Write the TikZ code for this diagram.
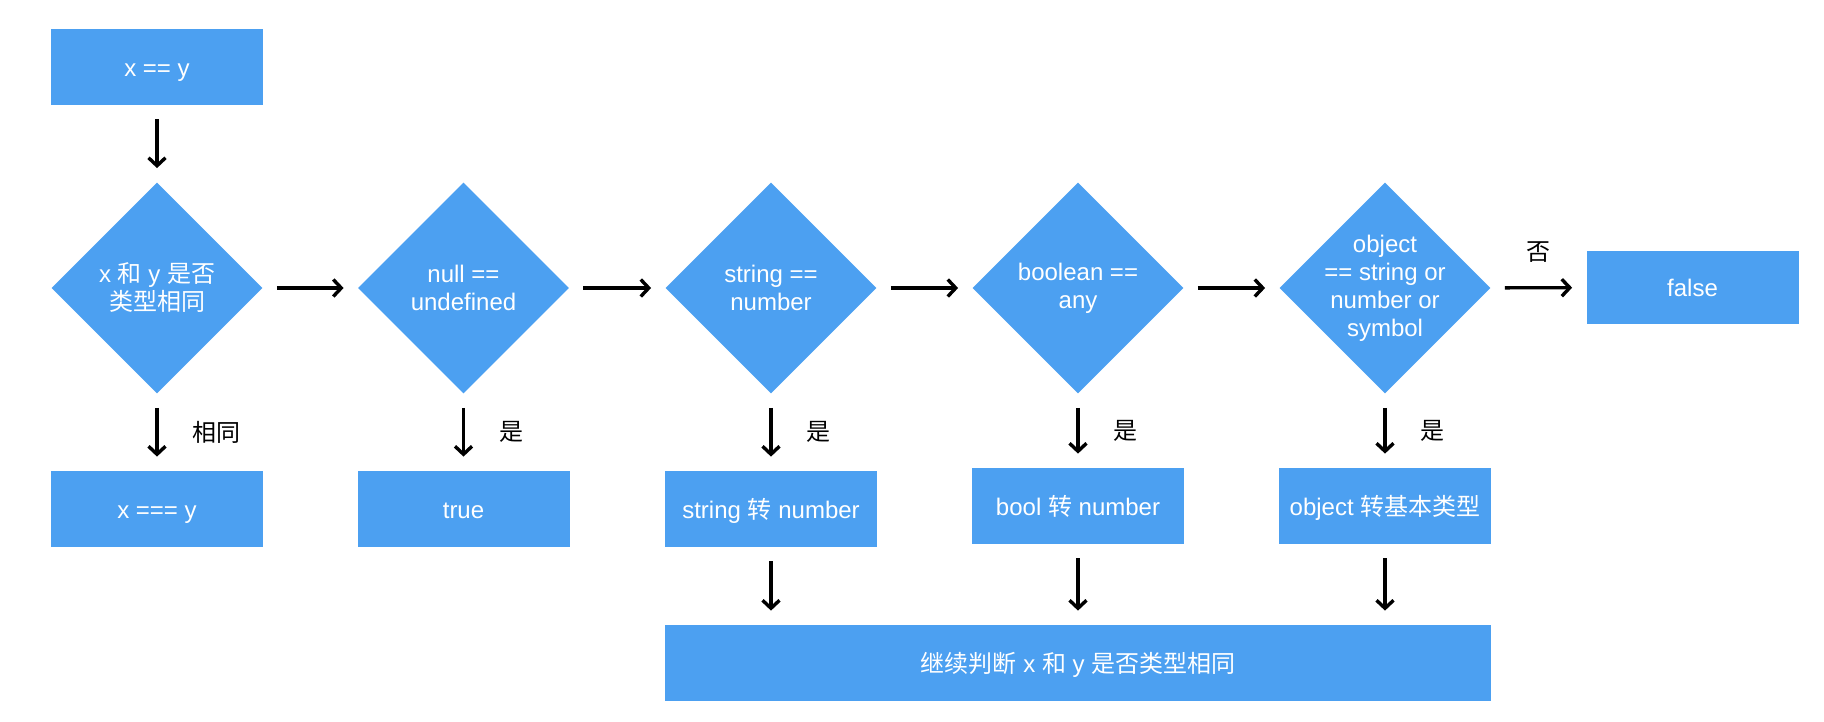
\documentclass[tikz,border=0pt]{standalone}
\usepackage{fontspec}
\setmainfont{Liberation Sans}
\newfontfamily\cjk{Noto Sans CJK SC}
\usetikzlibrary{shapes.geometric,arrows.meta}
\definecolor{boxblue}{RGB}{76,160,241}
\newcommand{\zh}[1]{{\cjk #1}}
\begin{document}
\begin{tikzpicture}[x=0.5pt,y=-0.5pt,
  txt/.style={text=white, font=\fontsize{12}{14}\selectfont, align=center},
  box/.style={txt, fill=boxblue, minimum width=106pt, minimum height=38pt, inner sep=0pt, text height=10.5pt, text depth=1.5pt},
  dia/.style={txt, diamond, aspect=1, fill=boxblue, minimum width=105.5pt, minimum height=105.5pt, inner sep=-30pt},
  arr/.style={-{Straight Barb[length=4pt,width=8.5pt]}, line width=1.7pt, shorten <=7pt, shorten >=7pt},
  lab/.style={font=\cjk\fontsize{12}{14}\selectfont, inner sep=0pt, text=black}]
\useasboundingbox (0,0) rectangle (1824,722);
\node[box] (start) at (157,67) {x == y};
\node[dia] (d1) at (157,288) {x \zh{和} y \zh{是否}\\\zh{类型相同}};
\node[dia] (d2) at (463.5,288) {null ==\\undefined};
\node[dia] (d3) at (771,288) {string ==\\number};
\node[dia] (d4) at (1078,288) {boolean ==\\any};
\node[dia] (d5) at (1385,288) {object\\== string or\\number or\\symbol};
\node[box, minimum height=36.5pt] (fls) at (1692.5,287.5) {false};
\node[box] (b1) at (157,509) {x === y};
\node[box] (b2) at (463.5,509) {true};
\node[box] (b3) at (771,509) {string \zh{转} number};
\node[box] (b4) at (1078,506) {bool \zh{转} number};
\node[box] (b5) at (1385,506) {object \zh{转基本类型}};
\node[box, minimum width=413pt] (big) at (1078,663) {\zh{继续判断} x \zh{和} y \zh{是否类型相同}};
\draw[arr] (start) -- (d1);
\draw[arr] (d1) -- (d2);
\draw[arr] (d2) -- (d3);
\draw[arr] (d3) -- (d4);
\draw[arr] (d4) -- (d5);
\draw[arr] (d5) -- node[lab, above=12pt] {否} (fls);
\draw[arr] (d1.south) -- node[lab, right=17pt] {相同} (b1.north);
\draw[arr] (d2.south) -- node[lab, right=17pt] {是} (b2.north);
\draw[arr] (d3.south) -- node[lab, right=17pt] {是} (b3.north);
\draw[arr] (d4.south) -- node[lab, right=17pt] {是} (b4.north);
\draw[arr] (d5.south) -- node[lab, right=17pt] {是} (b5.north);
\draw[arr] (b3.south) -- (b3.south |- big.north);
\draw[arr] (b4.south) -- (b4.south |- big.north);
\draw[arr] (b5.south) -- (b5.south |- big.north);
\end{tikzpicture}
\end{document}
